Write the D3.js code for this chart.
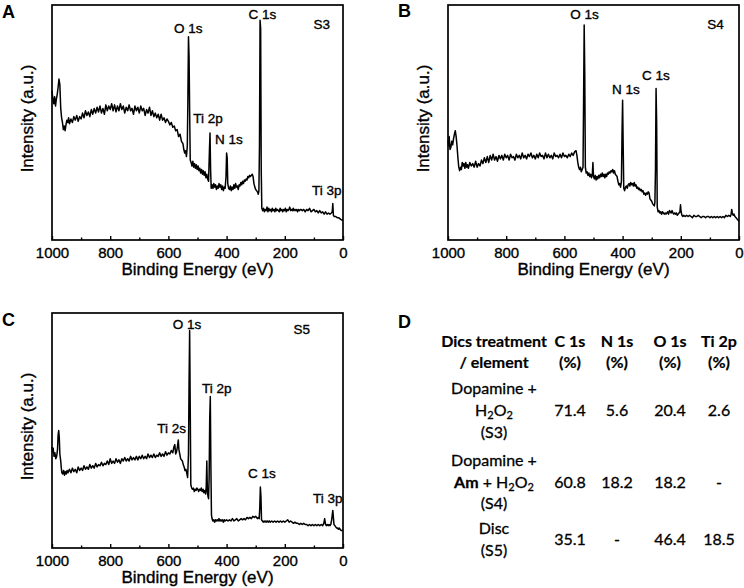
<!DOCTYPE html>
<html>
<head>
<meta charset="utf-8">
<script src="https://cdn.jsdelivr.net/npm/d3@7"></script>
<style>
  body { margin: 0; background: #fff; }
  svg { display: block; }
</style>
</head>
<body>
<svg id="fig" width="744" height="588"></svg>
<script>
// XPS survey spectra: [binding energy (eV), intensity (a.u., 0-100)]
const energyTicks = [1000, 800, 600, 400, 200, 0];
const minorTicks = [900, 700, 500, 300, 100];

const spectrumS3 = [
  [1000,63.5],[997,60],[994,58],[991,61],[988,57],[985,60],[982,62],[979,65],[976,68.5],[973,66],
  [970,56],[967,52],[964,50],[961,47],[958,48.5],[955,46.5],[952,49],[949,51],[946,50],[943,52],
  [940,49.5],[935,51.5],[930,50],[925,52.5],[920,51],[915,53],[910,50.5],[905,52.5],[900,51.5],[895,54],
  [890,52],[885,55],[880,53],[875,54.5],[870,52.5],[865,55.5],[860,53.5],[855,56],[850,54],[845,56.5],
  [840,54.5],[835,57],[830,54],[825,56],[820,53.5],[815,57.5],[810,55],[805,57],[800,55.5],[795,58],
  [790,55],[785,57.5],[780,54.5],[775,57],[770,55],[765,58],[760,55.5],[755,57],[750,54],[745,56.5],
  [740,55],[735,57.5],[730,55],[725,56],[720,53.5],[715,57],[710,55],[705,56.5],[700,54],[695,57],
  [690,55],[685,56],[680,53],[675,55.5],[670,54],[665,56.5],[660,53],[655,55],[650,52.5],[645,54],
  [640,52],[635,53.5],[630,51],[625,53.5],[620,51],[615,52],[610,50],[605,51.5],[600,50.5],[595,49],
  [590,50],[585,48],[580,48.5],[575,46.5],[570,47],[565,44],[560,45],[555,42],[550,41],[547,38.5],
  [544,37],[541,38],[538,35.5],[535,40],[533,60],[531,86.5],[529,78],[527,55],[525,34],[522,33],
  [519,31.5],[516,33.5],[513,31],[510,32.5],[507,30.5],[504,32],[501,30],[498,31.5],[495,29.5],[492,30.5],
  [489,28.5],[486,30],[483,28],[480,29.5],[477,27.5],[474,29],[471,26.5],[468,28],[465,26],[462,25],
  [459,38],[457,45.5],[455,30],[453,22],[450,23.5],[447,22],[444,24],[441,22.5],[438,23.5],[435,21.5],
  [432,23],[429,22],[426,24],[423,22.5],[420,23.5],[417,21.5],[414,23],[411,21],[408,22.5],[405,22],
  [402,27],[400,37],[398,35],[396,24],[393,22],[390,21.5],[387,23],[384,21],[381,22.5],[378,21.5],
  [375,23.5],[372,22],[369,24],[366,22.5],[363,23],[360,21.5],[357,23.5],[354,23],[351,24.5],[348,23.5],
  [345,25],[342,24],[339,25.5],[336,25],[333,26],[330,25.5],[327,27],[324,26.5],[321,27.5],[318,27],
  [315,27.5],[312,28],[309,27],[306,24],[303,22.5],[300,21.5],[297,21],[294,20.5],[291,19.5],[289,21],
  [287,40],[285,93.5],[283,90],[281,30],[279,13.5],[276,12.5],[273,13.5],[270,12],[267,13],[264,12.5],
  [261,14],[258,12],[255,13.5],[252,12.5],[249,13],[246,12],[243,13.5],[240,12.5],[237,13],[234,12],
  [231,13.5],[228,12.5],[225,13],[222,12.5],[219,12],[216,13.5],[213,12.5],[210,13],[207,12],[204,13],
  [201,12.5],[198,13.5],[195,12],[192,13],[189,12.5],[186,13],[183,14],[180,12.5],[177,13],[174,12.5],
  [171,13.5],[168,12.5],[165,13],[162,12.5],[159,13],[156,12],[153,13],[150,12.5],[145,13],[140,12.5],
  [135,13],[130,12],[125,13],[120,12.5],[115,13.5],[110,12],[105,12.5],[100,13],[95,12],[90,12.5],
  [85,11.5],[80,12.5],[75,11.5],[70,12],[65,11],[60,12],[55,11],[50,11.5],[45,11],[40,11.5],
  [37,12],[35,15.5],[33,10.5],[30,10],[25,10],[20,9.5],[15,9.5],[10,9],[5,8.5],[0,8.5]
];

const spectrumS4 = [
  [1000,42.3],[998,40],[996,44],[993,38.5],[990,39.5],[987,42],[984,40.5],[981,43],[978,45],[975,46.5],
  [972,44],[969,40],[966,35],[963,31],[960,29.5],[957,31],[954,30],[951,33],[948,31.5],[945,32.5],
  [942,30.5],[939,33],[936,31],[933,32],[930,30.5],[925,33],[920,31.5],[915,32.5],[910,31],[905,33.5],
  [900,31],[895,32.5],[890,31.5],[885,34],[880,32.5],[875,35],[870,33],[865,35.5],[860,33],[855,36],
  [850,34],[845,36.5],[840,34],[835,35.5],[830,33.5],[825,36],[820,34.5],[815,36],[810,34],[805,36.5],
  [800,35],[795,36],[790,34],[785,36.5],[780,35],[775,35.5],[770,34],[765,36.5],[760,35],[755,36],
  [750,34.5],[745,37],[740,35],[735,36],[730,34.5],[725,36.5],[720,35.5],[715,37],[710,35],[705,36],
  [700,34.5],[695,36.5],[690,35],[685,37],[680,35.5],[675,36],[670,34.5],[665,37],[660,35],[655,36.5],
  [650,35],[645,36],[640,34.5],[635,37],[630,35.5],[625,36],[620,35],[615,36.5],[610,35],[605,37],
  [600,35.5],[595,36],[590,35],[585,36.5],[580,35.5],[575,37],[570,36],[565,37.5],[560,38],[557,36],
  [554,33],[551,31],[548,30],[545,31],[542,29],[539,30],[536,31],[534,60],[532,91.5],[530,70],
  [528,31],[525,28.5],[522,29],[519,27.5],[516,28.5],[513,27],[510,28],[507,26.5],[504,28],[502,33],
  [500,27],[497,26],[494,27.5],[491,25.5],[488,27],[485,26],[482,27.5],[479,26.5],[476,28],[473,27],
  [470,28.5],[467,27],[464,28],[461,26.5],[458,28],[455,27],[452,28.5],[449,28],[446,29],[443,28.5],
  [440,29.5],[437,29],[434,30],[431,28.5],[428,29.5],[425,28],[422,27.5],[419,27],[416,25],[413,23.5],
  [410,24],[407,22.5],[404,25],[402,45],[400,59.5],[398,40],[396,22],[393,21],[390,22.5],[387,23],
  [384,22],[381,23.5],[378,24],[375,23],[372,24.5],[369,23.5],[366,24],[363,23],[360,24.5],[357,23],
  [354,23.5],[351,22],[348,22.5],[345,21.5],[342,22],[339,21],[336,21.5],[333,20.5],[330,21],[327,19.5],
  [324,20],[321,19],[318,20],[315,19.5],[312,20.5],[309,20],[306,17.5],[303,17],[300,16.5],[297,15.5],
  [294,15],[291,14.5],[289,16],[287,30],[285,64.5],[283,50],[281,14],[278,12],[275,12.5],[272,11.5],
  [269,12],[266,11],[263,12],[260,11.5],[257,11],[254,11.5],[251,11],[248,11.5],[245,12],[242,11],
  [239,12.5],[236,12],[233,11.5],[230,12.5],[227,11.5],[224,11],[221,11.5],[218,11],[215,11.5],[212,10.5],
  [209,11],[206,11.5],[203,12],[201,15],[199,12],[196,10.5],[193,10],[190,10.5],[185,10],[180,10.5],
  [175,10],[170,10.5],[165,10],[160,9.5],[155,10.5],[150,10],[145,10],[140,10.5],[135,10],[130,9.5],
  [125,10],[120,10],[115,9.5],[110,10],[105,10],[100,9.5],[95,10],[90,9.5],[85,10],[80,9.5],
  [75,10],[70,9.5],[65,10],[60,9.5],[55,10],[50,9.5],[45,10.5],[40,10],[35,10.5],[30,10],
  [27,11],[25,13],[23,11.5],[20,10.5],[17,11],[14,10],[10,9.5],[7,9],[4,8.5],[0,8]
];

const spectrumS5 = [
  [1000,43],[998,41],[996,42.5],[993,39],[990,40.5],[987,38],[984,39],[981,42],[979,48],[977,50],
  [975,47],[973,40],[970,37],[968,34],[966,32],[963,31.5],[960,33],[957,31],[954,32.5],[951,31.5],
  [948,33],[945,32],[940,33.5],[935,32],[930,34],[925,32.5],[920,33.5],[915,32],[910,34.5],[905,33],
  [900,34],[895,33],[890,35],[885,33.5],[880,34.5],[875,33.5],[870,35.5],[865,34],[860,35],[855,34],
  [850,36],[845,34.5],[840,35.5],[835,35],[830,36.5],[825,35],[820,36],[815,35.5],[810,37],[805,35.5],
  [800,38],[795,36],[790,37],[785,36],[780,38],[775,36.5],[770,37.5],[765,36],[760,38],[755,37],
  [750,38.5],[745,37],[740,38],[735,37],[730,39],[725,37.5],[720,38.5],[715,37.5],[710,39],[705,37.5],
  [700,39],[695,38],[690,39.5],[685,38],[680,39],[675,38],[670,40],[665,38.5],[660,39.5],[655,38.5],
  [650,40],[645,38.5],[640,39.5],[635,39],[630,40.5],[625,39],[620,40],[615,39],[610,41],[605,39.5],
  [600,40.5],[595,40],[590,41.5],[585,40.5],[581,43],[578,44],[575,40],[572,41],[569,43],[566,46],
  [564,42],[561,40],[558,38],[555,37.5],[552,37],[549,35.5],[546,34.5],[543,33],[540,33.5],[537,32],
  [534,30],[531,40],[529,70],[527,92.5],[525,60],[523,27],[520,25.5],[517,25],[514,25.5],[511,24],
  [508,25],[505,24.5],[502,25.5],[499,25],[496,24],[493,25],[490,24.5],[487,25.5],[484,24],[481,25],
  [478,23.5],[475,24.5],[472,23],[470,26],[468,37],[466,24],[464,22],[462,21],[460,30],[458,55],
  [456,64.5],[454,35],[452,14],[450,12.5],[447,11.5],[444,12],[441,11],[438,12],[435,11.5],[432,12],
  [429,11.5],[426,12.5],[423,11.5],[420,12],[417,11.5],[414,12],[411,11],[408,12],[405,11.5],[400,12],
  [395,11.5],[390,12],[385,11.5],[380,12.5],[375,11.5],[370,12],[365,12.5],[360,11.5],[355,12],[350,12.5],
  [345,12],[340,12.5],[335,12],[330,13],[325,12.5],[320,13],[315,12.5],[310,13.5],[305,13],[300,13.5],
  [297,13],[294,12.5],[291,13],[288,12.5],[286,17],[284,26],[282,22],[280,12],[277,11.5],[274,11],
  [271,11.5],[268,11],[265,11.5],[262,11],[259,11.5],[256,11],[253,11.5],[250,11],[245,11.5],[240,11],
  [235,11.5],[230,11],[225,11.5],[220,11],[215,11.5],[210,11],[205,11.5],[200,11],[195,11.5],[190,12],
  [185,11],[180,11.5],[175,11],[170,10.5],[165,11],[160,10.5],[155,10.5],[150,10],[145,10.5],[140,10],
  [135,10.5],[130,10],[125,10],[120,9.5],[115,10],[110,9.5],[105,10],[100,9.5],[95,10],[90,9.5],
  [85,10],[80,9.5],[75,10],[70,9.5],[66,10.5],[63,12.5],[60,10],[57,9.5],[54,10],[51,9.5],
  [48,10],[45,9.5],[42,10],[39,12],[37,14],[35,16],[33,13],[31,10],[28,9.5],[25,9],
  [22,8.5],[19,8.5],[16,8],[13,8.5],[10,8],[7,7.5],[4,7.5],[0,7.5]
];

// peak labels: [text, energy (eV), intensity]
const labelsS3 = [["S3", 73, 90], ["O 1s", 532, 88], ["C 1s", 277, 94], ["Ti 2p", 464, 50], ["N 1s", 392, 41], ["Ti 3p", 56, 19]];
const labelsS4 = [["S4", 81, 90], ["O 1s", 531, 94], ["N 1s", 389, 62], ["C 1s", 286, 68]];
const labelsS5 = [["S5", 142, 91], ["O 1s", 536, 93], ["Ti 2p", 434, 66], ["Ti 2s", 589, 49], ["C 1s", 279, 30], ["Ti 3p", 52, 19]];

// table D
const elementCols = ["C 1s", "N 1s", "O 1s", "Ti 2p"];
const pctC = ["71.4", "60.8", "35.1"];
const pctN = ["5.6", "18.2", "-"];
const pctO = ["20.4", "18.2", "46.4"];
const pctTi = ["2.6", "-", "18.5"];

const svg = d3.select("#fig");
svg.append("rect").attr("width", 744).attr("height", 588).attr("fill", "#fff");

const FONT = "'Liberation Sans', Arial, sans-serif";
const HALO = 0.35; // reference text looks slightly heavier than plain regular

const panels = [
  { letter: "A", lx: 2, ly: 18, data: spectrumS3, labels: labelsS3, left: 52, right: 343, top: 5, bottom: 240 },
  { letter: "B", lx: 398, ly: 17, data: spectrumS4, labels: labelsS4, left: 448, right: 739, top: 5, bottom: 240 },
  { letter: "C", lx: 2, ly: 326, data: spectrumS5, labels: labelsS5, left: 52, right: 343, top: 313, bottom: 548 }
];

function heavy(sel) {
  return sel.attr("stroke", "#000").attr("stroke-width", HALO);
}

function drawPanel(p) {
  const x = d3.scaleLinear().domain([1000, 0]).range([p.left, p.right]);
  const y = d3.scaleLinear().domain([0, 100]).range([p.bottom, p.top]);
  const g = svg.append("g");

  // major + minor ticks, pointing inward
  const major = g.append("g")
    .attr("transform", `translate(0,${p.bottom})`)
    .call(d3.axisBottom(x).tickValues(energyTicks).tickFormat(d3.format("d"))
      .tickSizeInner(-4).tickSizeOuter(0).tickPadding(7));
  major.select(".domain").remove();
  major.selectAll("line").attr("stroke", "#000").attr("stroke-width", 1.4);
  heavy(major.selectAll("text").attr("font-family", FONT).attr("font-size", 15).attr("fill", "#000"));

  const minor = g.append("g")
    .attr("transform", `translate(0,${p.bottom})`)
    .call(d3.axisBottom(x).tickValues(minorTicks).tickFormat("").tickSizeInner(-2.5).tickSizeOuter(0));
  minor.select(".domain").remove();
  minor.selectAll("line").attr("stroke", "#000").attr("stroke-width", 1.4);

  g.append("rect")
    .attr("x", p.left).attr("y", p.top)
    .attr("width", p.right - p.left).attr("height", p.bottom - p.top)
    .attr("fill", "none").attr("stroke", "#000").attr("stroke-width", 1.7);

  const line = d3.line().x(d => x(d[0])).y(d => y(d[1]));
  g.append("path").datum(p.data)
    .attr("d", line)
    .attr("fill", "none").attr("stroke", "#000")
    .attr("stroke-width", 1.5).attr("stroke-linejoin", "round");

  heavy(g.selectAll(".peak").data(p.labels).join("text")
    .attr("x", d => x(d[1])).attr("y", d => y(d[2]))
    .attr("text-anchor", "middle")
    .attr("font-family", FONT).attr("font-size", 13.5)
    .text(d => d[0]));

  heavy(g.append("text")
    .attr("x", (p.left + p.right) / 2).attr("y", p.bottom + 35)
    .attr("text-anchor", "middle")
    .attr("font-family", FONT).attr("font-size", 17)
    .text("Binding Energy (eV)"));

  heavy(g.append("text")
    .attr("transform", `translate(${p.left - 19},${(p.top + p.bottom) / 2 - 4}) rotate(-90)`)
    .attr("text-anchor", "middle")
    .attr("font-family", FONT).attr("font-size", 17)
    .text("Intensity (a.u.)"));

  g.append("text")
    .attr("x", p.lx).attr("y", p.ly)
    .attr("font-family", FONT).attr("font-size", 18).attr("font-weight", "bold")
    .text(p.letter);
}

panels.forEach(drawPanel);

// ---- table D ----
const TFONT = "Lato, 'Open Sans', sans-serif";
const tbl = svg.append("g").attr("font-family", TFONT).attr("fill", "#000");
tbl.append("text").attr("x", 398).attr("y", 328)
  .attr("font-family", FONT).attr("font-size", 18).attr("font-weight", "bold").text("D");

const colX = [494, 570, 617, 670, 719];

function cell(xp, yp, bold) {
  return tbl.append("text").attr("x", xp).attr("y", yp)
    .attr("text-anchor", "middle").attr("font-size", 16)
    .attr("font-weight", bold ? "bold" : "normal")
    .attr("stroke", "#000").attr("stroke-width", bold ? 0.2 : 0.3);
}

cell(colX[0], 347, true).text("Dics treatment");
cell(colX[0], 368, true).text("/ element");
elementCols.forEach((c, i) => {
  cell(colX[i + 1], 347, true).text(c);
  cell(colX[i + 1], 368, true).text("(%)");
});

function h2o2(t) {
  t.append("tspan").text("H");
  t.append("tspan").attr("font-size", 11).attr("dy", 3).text("2");
  t.append("tspan").attr("dy", -3).text("O");
  t.append("tspan").attr("font-size", 11).attr("dy", 3).text("2");
}

// row S3
cell(colX[0], 394).text("Dopamine +");
h2o2(cell(colX[0], 416));
cell(colX[0], 438).text("(S3)");
// row S4
cell(colX[0], 466).text("Dopamine +");
const amRow = cell(colX[0], 488);
amRow.append("tspan").attr("font-weight", "bold").text("Am");
amRow.append("tspan").text(" + ");
h2o2(amRow);
cell(colX[0], 509).text("(S4)");
// row S5
cell(colX[0], 534).text("Disc");
cell(colX[0], 556).text("(S5)");

const rowY = [416, 488, 545];
[pctC, pctN, pctO, pctTi].forEach((vals, i) => {
  vals.forEach((v, r) => cell(colX[i + 1], rowY[r]).text(v));
});
</script>
</body>
</html>
